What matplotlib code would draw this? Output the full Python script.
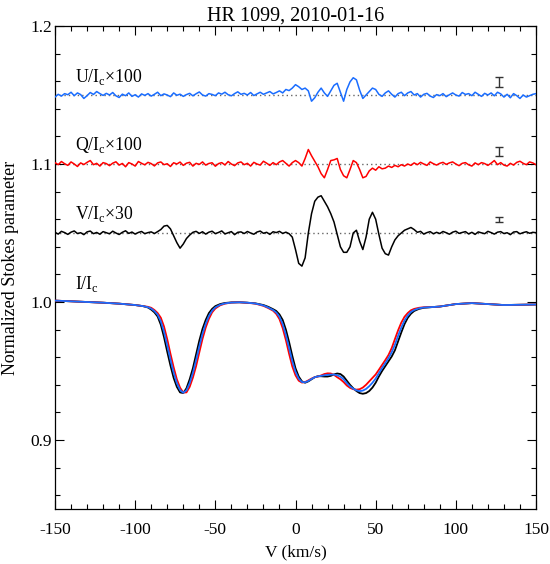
import numpy as np
import matplotlib
matplotlib.use("Agg")
import matplotlib.pyplot as plt
from matplotlib.ticker import MultipleLocator

plt.rcParams['font.family'] = ['Liberation Serif', 'DejaVu Serif']
plt.rcParams['mathtext.fontset'] = 'custom'
plt.rcParams['mathtext.rm'] = 'Liberation Serif'
plt.rcParams['axes.unicode_minus'] = False

# ---- Stokes I profiles (three sub-exposures) ----
v_I = [-150, -140, -130, -120, -110, -100, -95,
       -92, -90, -88, -86, -84, -82, -80, -78, -76, -74, -72, -70, -68, -66,
       -64, -62, -60, -58, -56, -54, -52, -50,
       -47, -44, -40, -35, -30, -25, -20, -17, -14,
       -12, -10, -8, -6, -4, -2, 0, 2, 4, 6, 8, 10, 12, 14, 16, 18, 20, 22,
       24, 26, 28, 30, 32, 34, 36, 38, 40, 42, 44, 46, 48, 50, 52, 54, 56, 58,
       60, 62, 64, 66, 68, 70, 72, 74,
       77, 80, 85, 90, 100, 110, 120, 130, 140, 150]

I_black = [1.0010, 1.0005, 1.0000, 0.9995, 0.9988, 0.9978, 0.9970,
           0.9960, 0.9945, 0.9925, 0.9895, 0.9835, 0.9745, 0.9640, 0.9540, 0.9450, 0.9385, 0.9345, 0.9340, 0.9375, 0.9440,
           0.9520, 0.9620, 0.9720, 0.9805, 0.9870, 0.9920, 0.9950, 0.9970,
           0.9985, 0.9993, 0.9997, 0.9998, 0.9995, 0.9990, 0.9978, 0.9965, 0.9948,
           0.9935, 0.9910, 0.9870, 0.9800, 0.9710, 0.9610,
           0.9520, 0.9460, 0.9425, 0.9415, 0.9425, 0.9440,
           0.9455, 0.9462, 0.9462, 0.9460, 0.9460, 0.9465,
           0.9475, 0.9482, 0.9478, 0.9460, 0.9430, 0.9400,
           0.9375, 0.9355, 0.9340, 0.9335, 0.9340, 0.9355,
           0.9380, 0.9415, 0.9460, 0.9500, 0.9535, 0.9570,
           0.9605, 0.9650, 0.9715, 0.9780, 0.9840, 0.9885,
           0.9915, 0.9935,
           0.9950, 0.9958, 0.9963, 0.9967, 0.9985, 0.9992, 0.9985, 0.9978, 0.9980, 0.9982]

I_red = [1.0010, 1.0005, 1.0000, 0.9995, 0.9988, 0.9978, 0.9970,
         0.9965, 0.9958, 0.9942, 0.9920, 0.9886, 0.9822, 0.9730, 0.9625, 0.9527, 0.9440, 0.9379, 0.9344, 0.9345, 0.9385,
         0.9452, 0.9535, 0.9635, 0.9733, 0.9815, 0.9878, 0.9925, 0.9953,
         0.9976, 0.9988, 0.9996, 0.9998, 0.9994, 0.9988, 0.9972, 0.9956, 0.9937,
         0.9914, 0.9876, 0.9811, 0.9724, 0.9625, 0.9533,
         0.9469, 0.9430, 0.9416, 0.9420, 0.9432, 0.9445,
         0.9455, 0.9460, 0.9468, 0.9478, 0.9483, 0.9482,
         0.9472, 0.9455, 0.9440, 0.9420, 0.9395, 0.9378,
         0.9368, 0.9365, 0.9368, 0.9380, 0.9400, 0.9425,
         0.9450, 0.9475, 0.9509, 0.9544, 0.9579, 0.9616,
         0.9666, 0.9731, 0.9795, 0.9851, 0.9893, 0.9920,
         0.9940, 0.9950,
         0.9958, 0.9962, 0.9963, 0.9967, 0.9985, 0.9992, 0.9985, 0.9978, 0.9980, 0.9982]

I_blue = [1.0010, 1.0005, 1.0000, 0.9995, 0.9988, 0.9978, 0.9970,
          0.9962, 0.9952, 0.9934, 0.9908, 0.9860, 0.9784, 0.9685, 0.9583, 0.9489, 0.9412, 0.9362, 0.9342, 0.9360, 0.9412,
          0.9486, 0.9578, 0.9678, 0.9769, 0.9842, 0.9899, 0.9937, 0.9961,
          0.9980, 0.9990, 0.9996, 0.9998, 0.9995, 0.9989, 0.9975, 0.9960, 0.9942,
          0.9924, 0.9893, 0.9840, 0.9762, 0.9667, 0.9571,
          0.9494, 0.9445, 0.9420, 0.9418, 0.9428, 0.9442,
          0.9455, 0.9461, 0.9465, 0.9469, 0.9472, 0.9474,
          0.9474, 0.9469, 0.9459, 0.9440, 0.9412, 0.9389,
          0.9372, 0.9360, 0.9354, 0.9358, 0.9370, 0.9390,
          0.9415, 0.9445, 0.9484, 0.9522, 0.9557, 0.9593,
          0.9636, 0.9690, 0.9755, 0.9815, 0.9866, 0.9902,
          0.9928, 0.9942,
          0.9954, 0.9960, 0.9963, 0.9967, 0.9985, 0.9992, 0.9985, 0.9978, 0.9980, 0.9982]

# ---- polarisation profiles, 2 km/s grid, deviations in units of 1e-3 ----
v_pol = np.arange(-150, 151, 2)

V_dev = [0.5, -0.8, 1.2, 0.3, -1.0, 0.6, 1.5, -0.4, 0.2, -1.2,
         0.8, 1.4, -0.5, 0.4, -0.9, 1.0, 0.2, -0.6, 1.3, 0.0,
         -1.1, 0.5, 1.6, -0.3, 0.7, -0.8, 0.4, 1.1, -0.5, 0.3,
         0.8, -0.4, 1.0, 2.5, 5.0, 5.5, 3.0, -2.0, -7.0, -11.0,
         -8.0, -4.0, -1.5, 0.5, 1.2, -0.3, 0.9, -0.8, 0.6, 1.3,
         -0.5, 0.4, 1.5, -0.7, 0.2, 1.0, -1.2, 0.5, 0.8, -0.4,
         1.1, 0.0, -0.9, 0.7, 1.4, -0.2, 0.5, -1.0, 0.9, 0.3,
         1.2, -0.3, 0.6, -0.5, -3.0, -12.0, -22.0, -24.0, -18.0, 0.0,
         14.0, 23.0, 26.0, 27.0, 23.0, 19.0, 14.0, 8.0, -1.0, -10.0,
         -14.0, -14.0, -10.0, 0.0, 2.0, -6.0, -12.0, -3.0, 10.0, 15.0,
         10.0, -1.0, -11.0, -15.0, -16.0, -10.0, -5.0, -2.0, 0.0, 2.0,
         3.0, 4.0, 2.5, 0.5, 1.2, -0.8, 0.3, 1.0, -0.6, 0.5,
         -0.4, 1.1, 0.2, -0.9, 0.6, 1.3, -0.3, 0.4, 1.0, -0.7,
         0.5, -1.0, 0.8, 0.1, -0.5, 1.2, 0.3, -0.8, 0.6, 1.0,
         -0.4, 0.2, -1.2, 0.7, 1.0, -0.6, 0.3, 0.9, -0.2, 0.5,
         0.2]

U_dev = [-1.5, 0.5, -0.8, 1.0, 0.2, 2.0, -0.5, 1.5, 0.3, -2.5,
         -0.5, 1.8, 0.4, 2.5, 1.0, -0.3, 1.2, 0.0, 1.8, -0.6,
         -1.8, 0.6, -0.5, 1.5, -1.0, 0.2, -1.5, 0.8, -0.3, 1.0,
         -0.8, 0.5, 2.0, -0.5, 0.8, 0.0, -1.2, 1.5, -0.2, 0.6,
         -1.0, 0.3, 1.2, -0.6, 0.9, 2.2, 0.0, -0.8, 1.0, 0.4,
         -0.5, 1.5, 0.6, 2.0, 0.2, -0.6, 1.0, 2.3, 0.5, 1.2,
         0.0, 1.8, -0.4, 0.8, 2.0, 0.5, 1.5, 2.5, 0.8, 1.8,
         3.0, 1.5, 4.0, 3.2, 5.0, 7.5, 6.0, 4.0, 5.0, 3.0,
         -4.5, -2.0, 2.0, 5.0, 1.5, -1.0, 3.0, 7.0, 8.5, 2.0,
         -4.5, 4.0, 9.5, 12.5, 11.0, 3.5, -2.5, 0.0, 2.5, 5.0,
         4.0, 0.5, -1.0, 1.5, 3.0, 0.5, -1.5, 1.0, 2.0, -0.5,
         1.5, 2.5, 0.0, 1.0, -1.5, 0.5, 1.2, -0.8, -1.8, 0.3,
         -0.5, 1.0, -1.2, 0.2, 1.5, 0.0, -0.8, 1.8, 0.4, 1.0,
         -0.5, 2.0, 0.5, -1.0, 1.2, 0.0, 1.5, -0.6, 2.0, 0.8,
         -1.5, 0.5, -2.0, 1.0, -0.5, -2.5, 0.0, -1.5, -0.5, 0.5,
         1.0]

Q_dev = [1.0, -0.5, 1.8, 0.2, -1.0, 1.5, 0.0, -1.8, 0.8, -0.4,
         1.2, 2.5, -0.5, 0.5, -1.5, 1.0, 0.3, -1.2, 0.6, 1.6,
         -0.8, 0.4, -2.0, 1.0, 0.0, -1.5, 1.8, 0.5, -0.6, 1.2,
         0.3, -1.4, 0.8, 1.5, -0.5, 0.2, -1.8, 0.9, 0.0, 1.4,
         -1.0, 0.6, 1.2, -1.5, 0.5, -0.3, 1.5, -0.8, 0.4, 0.9,
         -1.6, 0.3, 1.0, -0.7, 1.8, 0.0, -1.2, 0.8, 1.5, -0.5,
         0.5, -1.5, 1.2, 0.0, -0.8, 2.0, 0.6, -1.0, 1.0, -0.5,
         1.5, 2.5, 0.5, -1.5, 1.0, 2.5, 1.0, -1.5, 4.0, 10.5,
         6.0, 2.0, -2.0, -7.0, -10.0, -4.0, 2.5, 3.0, 4.0, -4.0,
         -8.5, -10.0, -4.0, 2.5, 1.0, -4.0, -10.0, -9.0, -5.0, -3.0,
         -4.5, -2.0, -3.5, -3.0, -1.5, -2.5, -1.0, -2.0, -0.5, -1.5,
         0.0, -1.0, 0.8, -0.5, 1.2, 0.0, -1.0, 1.5, 0.2, -0.8,
         0.5, 1.2, -0.3, 0.8, 1.5, 0.0, -1.2, 0.5, 1.0, -0.6,
         -1.5, 0.8, -0.5, 1.0, 0.3, -1.0, 0.6, 2.5, -0.5, 1.0,
         -0.8, -1.5, 0.5, -0.8, 1.2, 2.0, 0.5, -0.5, 1.5, 0.8,
         -0.5]

offsets = {'U': 1.15, 'Q': 1.10, 'V': 1.05}

# error bars (velocity, centre, half-length)
err_v = [127, 127, 127]
err_y = [1.1596, 1.1089, 1.0598]
err_h = [0.0036, 0.0033, 0.0015]

labels = ['U/I$_{\\rm c}$\u00d7100', 'Q/I$_{\\rm c}$\u00d7100', 'V/I$_{\\rm c}$\u00d730', 'I/I$_{\\rm c}$']
label_y = [1.1596, 1.1100, 1.0598, 1.0097]

BLUE = '#1a6dff'
RED = '#ff0000'

fig = plt.figure(figsize=(5.5, 5.64), dpi=100)
ax = fig.add_axes([55 / 550, 55 / 564, 481 / 550, 483 / 564])

for lev in offsets.values():
    ax.axhline(lev, color='#666666', lw=1.0, ls=(0, (1, 2.2)), zorder=1)

ax.plot(v_pol, offsets['U'] + np.array(U_dev) / 1000, color=BLUE, lw=1.1, zorder=3)
ax.plot(v_pol, offsets['Q'] + np.array(Q_dev) / 1000, color=RED, lw=1.1, zorder=3)
ax.plot(v_pol, offsets['V'] + np.array(V_dev) / 1000, color='black', lw=1.1, zorder=3)

ax.plot(v_I, I_black, color='black', lw=1.3, zorder=3)
ax.plot(v_I, I_red, color=RED, lw=1.3, zorder=3)
ax.plot(v_I, I_blue, color=BLUE, lw=1.3, zorder=3)

ax.errorbar(err_v, err_y, yerr=err_h, fmt='none', ecolor='#333333',
            elinewidth=1.0, capsize=3, capthick=1.0, zorder=4)

for txt, yy in zip(labels, label_y):
    ax.text(-137.5, yy, txt, fontsize=12.8, va='baseline', ha='left')

ax.set_xlim(-150, 150)
ax.set_ylim(0.85, 1.2)
ax.xaxis.set_major_locator(MultipleLocator(50))
ax.xaxis.set_minor_locator(MultipleLocator(10))
ax.yaxis.set_major_locator(MultipleLocator(0.1))
ax.yaxis.set_minor_locator(MultipleLocator(0.02))
ax.yaxis.set_major_formatter(plt.FuncFormatter(lambda y, p: f'{y:.1f}'))
ax.tick_params(which='both', direction='in', top=True, right=True, width=0.8, labelsize=12.5)
ax.tick_params(which='major', length=6.5)
ax.tick_params(which='minor', length=3.5)
ax.tick_params(axis='x', pad=9)
ax.tick_params(axis='y', pad=2)
for s in ax.spines.values():
    s.set_linewidth(0.9)

ax.set_title('HR 1099, 2010-01-16', fontsize=14.5, pad=4)
ax.set_xlabel('V (km/s)', fontsize=12.5, labelpad=5)
ax.set_ylabel('Normalized Stokes parameter', fontsize=13, labelpad=8)

fig.savefig('out.png', dpi=100)
